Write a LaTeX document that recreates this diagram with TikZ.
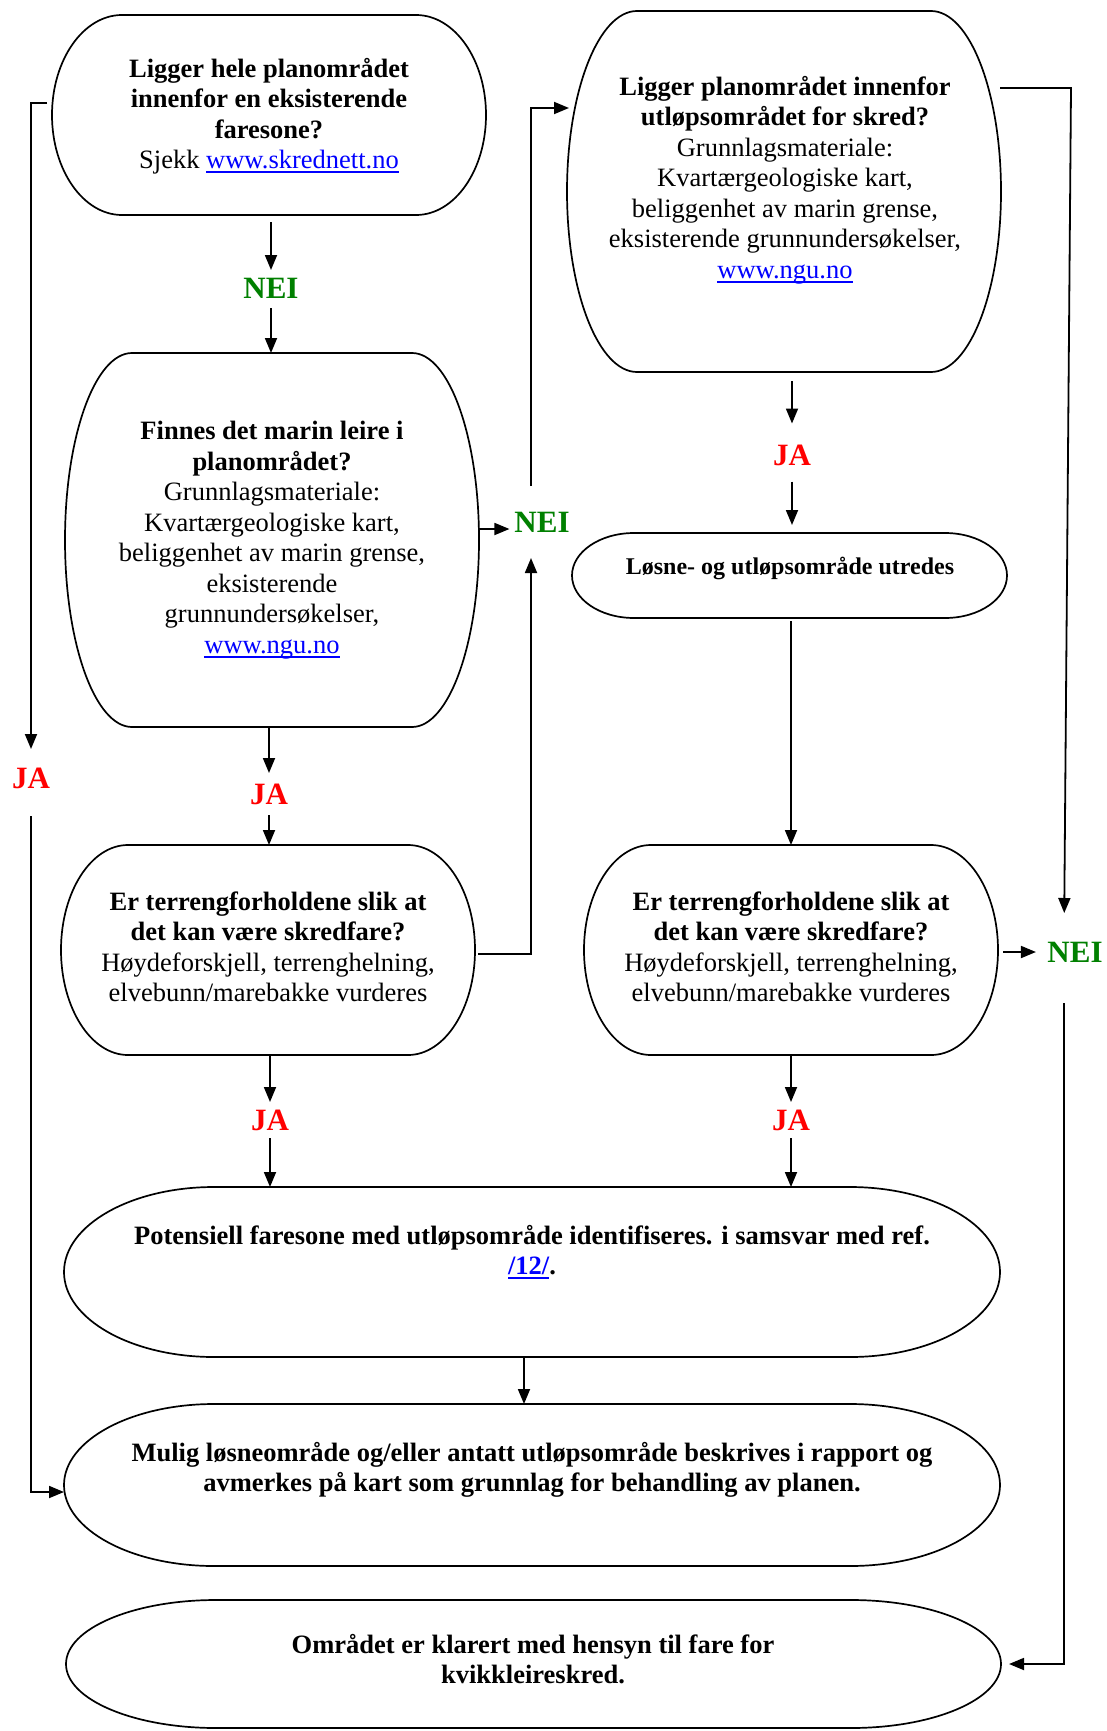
\documentclass[tikz,border=0pt]{standalone}
\usepackage{fontspec}
\setmainfont{Liberation Serif}
\usetikzlibrary{calc,arrows.meta}
\definecolor{neigreen}{RGB}{0,128,0}
\definecolor{jared}{RGB}{255,0,0}
\definecolor{linkblue}{RGB}{0,0,255}
\newsavebox\lnkbox
\newcommand\lnk[1]{\textcolor{linkblue}{\sbox\lnkbox{#1}\rlap{\rule[-4.5pt]{\wd\lnkbox}{1.8pt}}\usebox\lnkbox}}
\newcommand\termoutline[2]{%
  \draw[boxline]
   ([xshift=#2pt]#1.north west) -- ([xshift=-#2pt]#1.north east)
   .. controls ([xshift={-0.4477*#2pt}]#1.north east) and ($(#1.east)!0.5523!(#1.north east)$) .. (#1.east)
   .. controls ($(#1.east)!0.5523!(#1.south east)$) and ([xshift={-0.4477*#2pt}]#1.south east) .. ([xshift=-#2pt]#1.south east)
   -- ([xshift=#2pt]#1.south west)
   .. controls ([xshift={0.4477*#2pt}]#1.south west) and ($(#1.west)!0.5523!(#1.south west)$) .. (#1.west)
   .. controls ($(#1.west)!0.5523!(#1.north west)$) and ([xshift={0.4477*#2pt}]#1.north west) .. cycle;
}
\begin{document}
\begin{tikzpicture}[x=1pt, y=-1pt,
  boxline/.style={line width=1.7pt, black},
  arr/.style={-{Triangle[length=15pt,width=12pt]}, line width=1.8pt, black},
  plain/.style={line width=1.8pt, black},
  boxnode/.style={rectangle, inner sep=0pt, outer sep=0pt, draw=none},
  txt/.style={align=center, inner sep=0pt, font=\fontsize{26.5pt}{30.5pt}\selectfont},
  lbl/.style={inner sep=0pt, outer sep=0pt, text height=21pt, text depth=0pt, font=\fontsize{31pt}{31pt}\selectfont\bfseries}
]
\fill[white] (0,0) rectangle (1106,1731);
\useasboundingbox (0,0) rectangle (1106,1731);

% boxes
\node[boxnode, minimum width=434pt, minimum height=200pt] (A) at (269,115) {};
\node[boxnode, minimum width=434pt, minimum height=361pt] (B) at (784,191.5) {};
\node[boxnode, minimum width=414pt, minimum height=374pt] (C) at (272,540) {};
\node[boxnode, minimum width=435pt, minimum height=85pt] (E) at (789.5,575.5) {};
\node[boxnode, minimum width=414pt, minimum height=210pt] (F) at (268,950) {};
\node[boxnode, minimum width=414pt, minimum height=210pt] (G) at (791,950) {};
\node[boxnode, minimum width=936pt, minimum height=170pt] (H) at (532,1272) {};
\node[boxnode, minimum width=936pt, minimum height=162pt] (I) at (532,1485) {};
\node[boxnode, minimum width=935pt, minimum height=128pt] (J) at (533.5,1664) {};

\termoutline{A}{70}
\termoutline{B}{70}
\termoutline{C}{67}
\termoutline{E}{62}
\termoutline{F}{67}
\termoutline{G}{67}
\termoutline{H}{150}
\termoutline{I}{150}
\termoutline{J}{150}

% texts
\node[txt] (At) at (269,116) {\textbf{Ligger hele planområdet}\\\textbf{innenfor en eksisterende}\\\textbf{faresone?}\\Sjekk \lnk{www.skrednett.no}};
\node[txt] (Bt) at (785,180) {\textbf{Ligger planområdet innenfor}\\\textbf{utløpsområdet for skred?}\\Grunnlagsmateriale:\\Kvartærgeologiske kart,\\beliggenhet av marin grense,\\eksisterende grunnundersøkelser,\\\lnk{www.ngu.no}};
\node[txt] (Ct) at (272,540) {\textbf{Finnes det marin leire i}\\\textbf{planområdet?}\\Grunnlagsmateriale:\\Kvartærgeologiske kart,\\beliggenhet av marin grense,\\eksisterende\\grunnundersøkelser,\\\lnk{www.ngu.no}};
\node[txt, font=\fontsize{24pt}{28pt}\selectfont\bfseries] (Et) at (790,568) {Løsne- og utløpsområde utredes};
\node[txt] (Ft) at (268,947) {\textbf{Er terrengforholdene slik at}\\\textbf{det kan være skredfare?}\\Høydeforskjell, terrenghelning,\\elvebunn/marebakke vurderes};
\node[txt] (Gt) at (791,947) {\textbf{Er terrengforholdene slik at}\\\textbf{det kan være skredfare?}\\Høydeforskjell, terrenghelning,\\elvebunn/marebakke vurderes};
\node[txt, font=\fontsize{26.5pt}{30.5pt}\selectfont\bfseries] (Ht) at (532,1252) {Potensiell faresone med utløpsområde identifiseres. i samsvar med ref.\\\lnk{/12/}.};
\node[txt, font=\fontsize{26.5pt}{30.5pt}\selectfont\bfseries] (It) at (532,1470) {Mulig løsneområde og/eller antatt utløpsområde beskrives i rapport og\\avmerkes på kart som grunnlag for behandling av planen.};
\node[txt, font=\fontsize{26.5pt}{30.5pt}\selectfont\bfseries] (Jt) at (533,1659) {Området er klarert med hensyn til fare for\\kvikkleireskred.};

% labels
\node[lbl, text=neigreen] (N1) at (271,288) {NEI};
\node[lbl, text=neigreen] (N2) at (542,522) {NEI};
\node[lbl, text=neigreen] (N3) at (1075,952) {NEI};
\node[lbl, text=jared] (J1) at (31,778) {JA};
\node[lbl, text=jared] (J2) at (269,794) {JA};
\node[lbl, text=jared] (J3) at (792,455) {JA};
\node[lbl, text=jared] (J4) at (270,1120) {JA};
\node[lbl, text=jared] (J5) at (791,1120) {JA};

\coordinate (rt) at (1071,88);

% connectors
\draw[arr, shorten <=7pt, shorten >=7.5pt] (N1.north |- A.south) -- (N1.north);
\draw[arr, shorten <=9.5pt] (N1.south) -- (N1.south |- C.north);
\draw[arr, shorten >=18.5pt] ([xshift=-5pt,yshift=12pt]A.west) -| (J1.north);
\draw[arr, shorten <=27.5pt] (J1.south) |- ([yshift=-7pt]I.west);
\draw[arr, shorten >=10.5pt] (J2.north |- C.south) -- (J2.north);
\draw[arr, shorten <=10.5pt] (J2.south) -- (J2.south |- F.north);
\draw[arr, shorten >=5pt] ([yshift=11pt]C.east) -- ([yshift=-7pt]N2.west);
\draw[arr, shorten >=25.5pt] ([xshift=3pt,yshift=-4pt]F.east) -| ([xshift=-11pt]N2.south);
\draw[arr, shorten <=25.5pt] ([xshift=-11pt]N2.north) |- ([xshift=2pt,yshift=83.5pt]B.west);
\draw[arr, shorten <=9pt, shorten >=21pt] (J3.north |- B.south) -- (J3.north);
\draw[arr, shorten <=16pt, shorten >=8pt] (J3.south) -- (J3.south |- E.north);
\draw[arr, shorten <=3pt] (G.north |- E.south) -- (G.north);
\draw[arr, shorten >=28.5pt] ([xshift=-1pt,yshift=103.5pt]B.east) -- (rt) -- ([xshift=-11pt]N3.north);
\draw[arr, shorten <=5pt, shorten >=11.5pt] (G.east |- N3.west) -- (N3.west);
\draw[arr, shorten <=40.5pt, shorten >=8pt] ([xshift=-11pt]N3.south) |- (J.east);
\draw[arr, shorten >=7.5pt] (J4.north |- F.south) -- (J4.north);
\draw[arr, shorten <=7.5pt] (J4.south) -- (J4.south |- H.north);
\draw[arr, shorten >=7.5pt] (J5.north |- G.south) -- (J5.north);
\draw[arr, shorten <=7.5pt] (J5.south) -- (J5.south |- H.north);
\draw[arr] ([xshift=-8pt]H.south) -- ([xshift=-8pt]I.north);
\end{tikzpicture}
\end{document}
